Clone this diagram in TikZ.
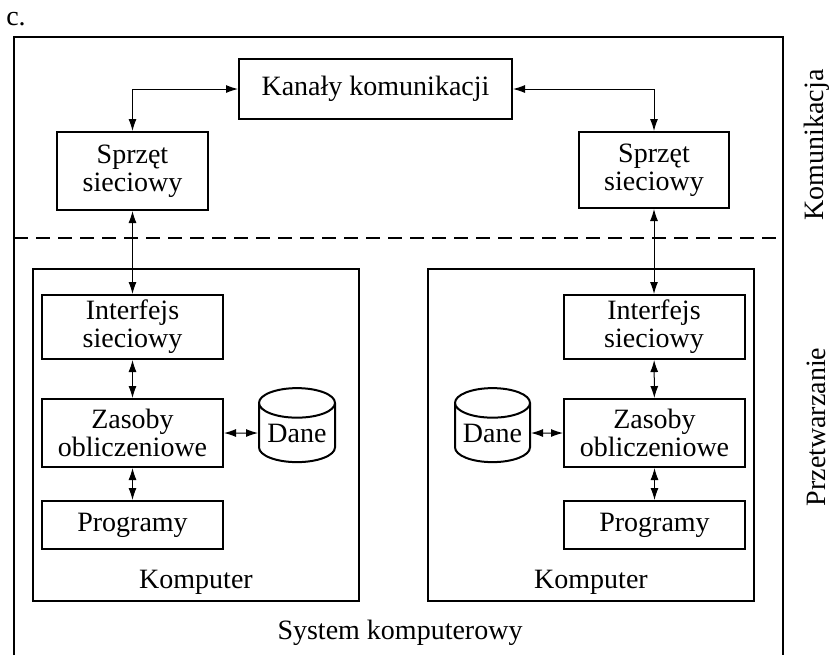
\documentclass[tikz,border=0pt]{standalone}
\usepackage{fontspec}
\setmainfont{Liberation Serif}
\usetikzlibrary{shapes.geometric, positioning, arrows.meta}
\tikzset{
    block/.style = {draw, line width=1pt, align=center, inner sep=0pt},
    store/.style = {draw, line width=1pt, cylinder, shape border rotate=90, aspect=0.5, inner sep=0pt},
    frame/.style = {draw, line width=1pt},
    link/.style = {draw, line width=0.5pt, {Latex[length=6pt,width=4pt]}-{Latex[length=6pt,width=4pt]}},
}

\begin{document}
\begin{tikzpicture}[x=0.5pt, y=-0.5pt, font=\fontsize{14}{14}\selectfont]
    \useasboundingbox (0,0) rectangle (829,655);
    \node (tag) at (16,19) {c.};
    % outer frame, runs off the bottom
    \draw[frame] (14,655) -- (14,37) -- (783,37) -- (783,655);
    \draw[line width=1pt, dash pattern=on 7pt off 4pt] (14,238) -- (783,238);
    \node[rotate=90] (komunikacja) at (817,145) {Komunikacja};
    \node[rotate=90] (przetwarzanie) at (816,427) {Przetwarzanie};
    \node (system) at (400,633) {System komputerowy};

    \node[block, minimum width=136.5pt, minimum height=30pt] (kanaly) at (375.5,89) {Kanały komunikacji};
    \node[block, minimum width=75.5pt, minimum height=39pt] (sprzetL) at (132.5,171) {Sprzęt\\sieciowy};
    \node[block, minimum width=75pt, minimum height=38pt] (sprzetR) at (654,170) {Sprzęt\\sieciowy};

    \node[frame, minimum width=163pt, minimum height=166pt] (komputerL) at (196,435) {};
    \node[frame, minimum width=163pt, minimum height=166pt] (komputerR) at (591,435) {};
    \node (nazwaL) at (196,582) {Komputer};
    \node (nazwaR) at (591,582) {Komputer};

    \node[block, minimum width=90.5pt, minimum height=32pt] (interfejsL) at (132.5,327) {Interfejs\\sieciowy};
    \node[block, minimum width=90.5pt, minimum height=34pt] (zasobyL) at (132.5,433) {Zasoby\\obliczeniowe};
    \node[block, minimum width=90.5pt, minimum height=24pt] (programyL) at (132.5,525) {Programy};
    \node[store, minimum width=38pt, minimum height=37pt] (daneL) at (297,433) {Dane};

    \node[block, minimum width=90.5pt, minimum height=32pt] (interfejsR) at (654,327) {Interfejs\\sieciowy};
    \node[block, minimum width=90.5pt, minimum height=34pt] (zasobyR) at (654.5,433) {Zasoby\\obliczeniowe};
    \node[block, minimum width=90.5pt, minimum height=24pt] (programyR) at (654.5,525) {Programy};
    \node[store, minimum width=37.5pt, minimum height=37pt] (daneR) at (492.5,433) {Dane};

    \draw[link] (kanaly.west) -| (sprzetL);
    \draw[link] (kanaly.east) -| (sprzetR);
    \draw[link] (sprzetL) -- (interfejsL);
    \draw[link] (sprzetR) -- (interfejsR);
    \draw[link] (interfejsL) -- (zasobyL);
    \draw[link] (zasobyL) -- (programyL);
    \draw[link] (zasobyL) -- (daneL);
    \draw[link] (interfejsR) -- (zasobyR);
    \draw[link] (zasobyR) -- (programyR);
    \draw[link] (daneR) -- (zasobyR);
\end{tikzpicture}
\end{document}
